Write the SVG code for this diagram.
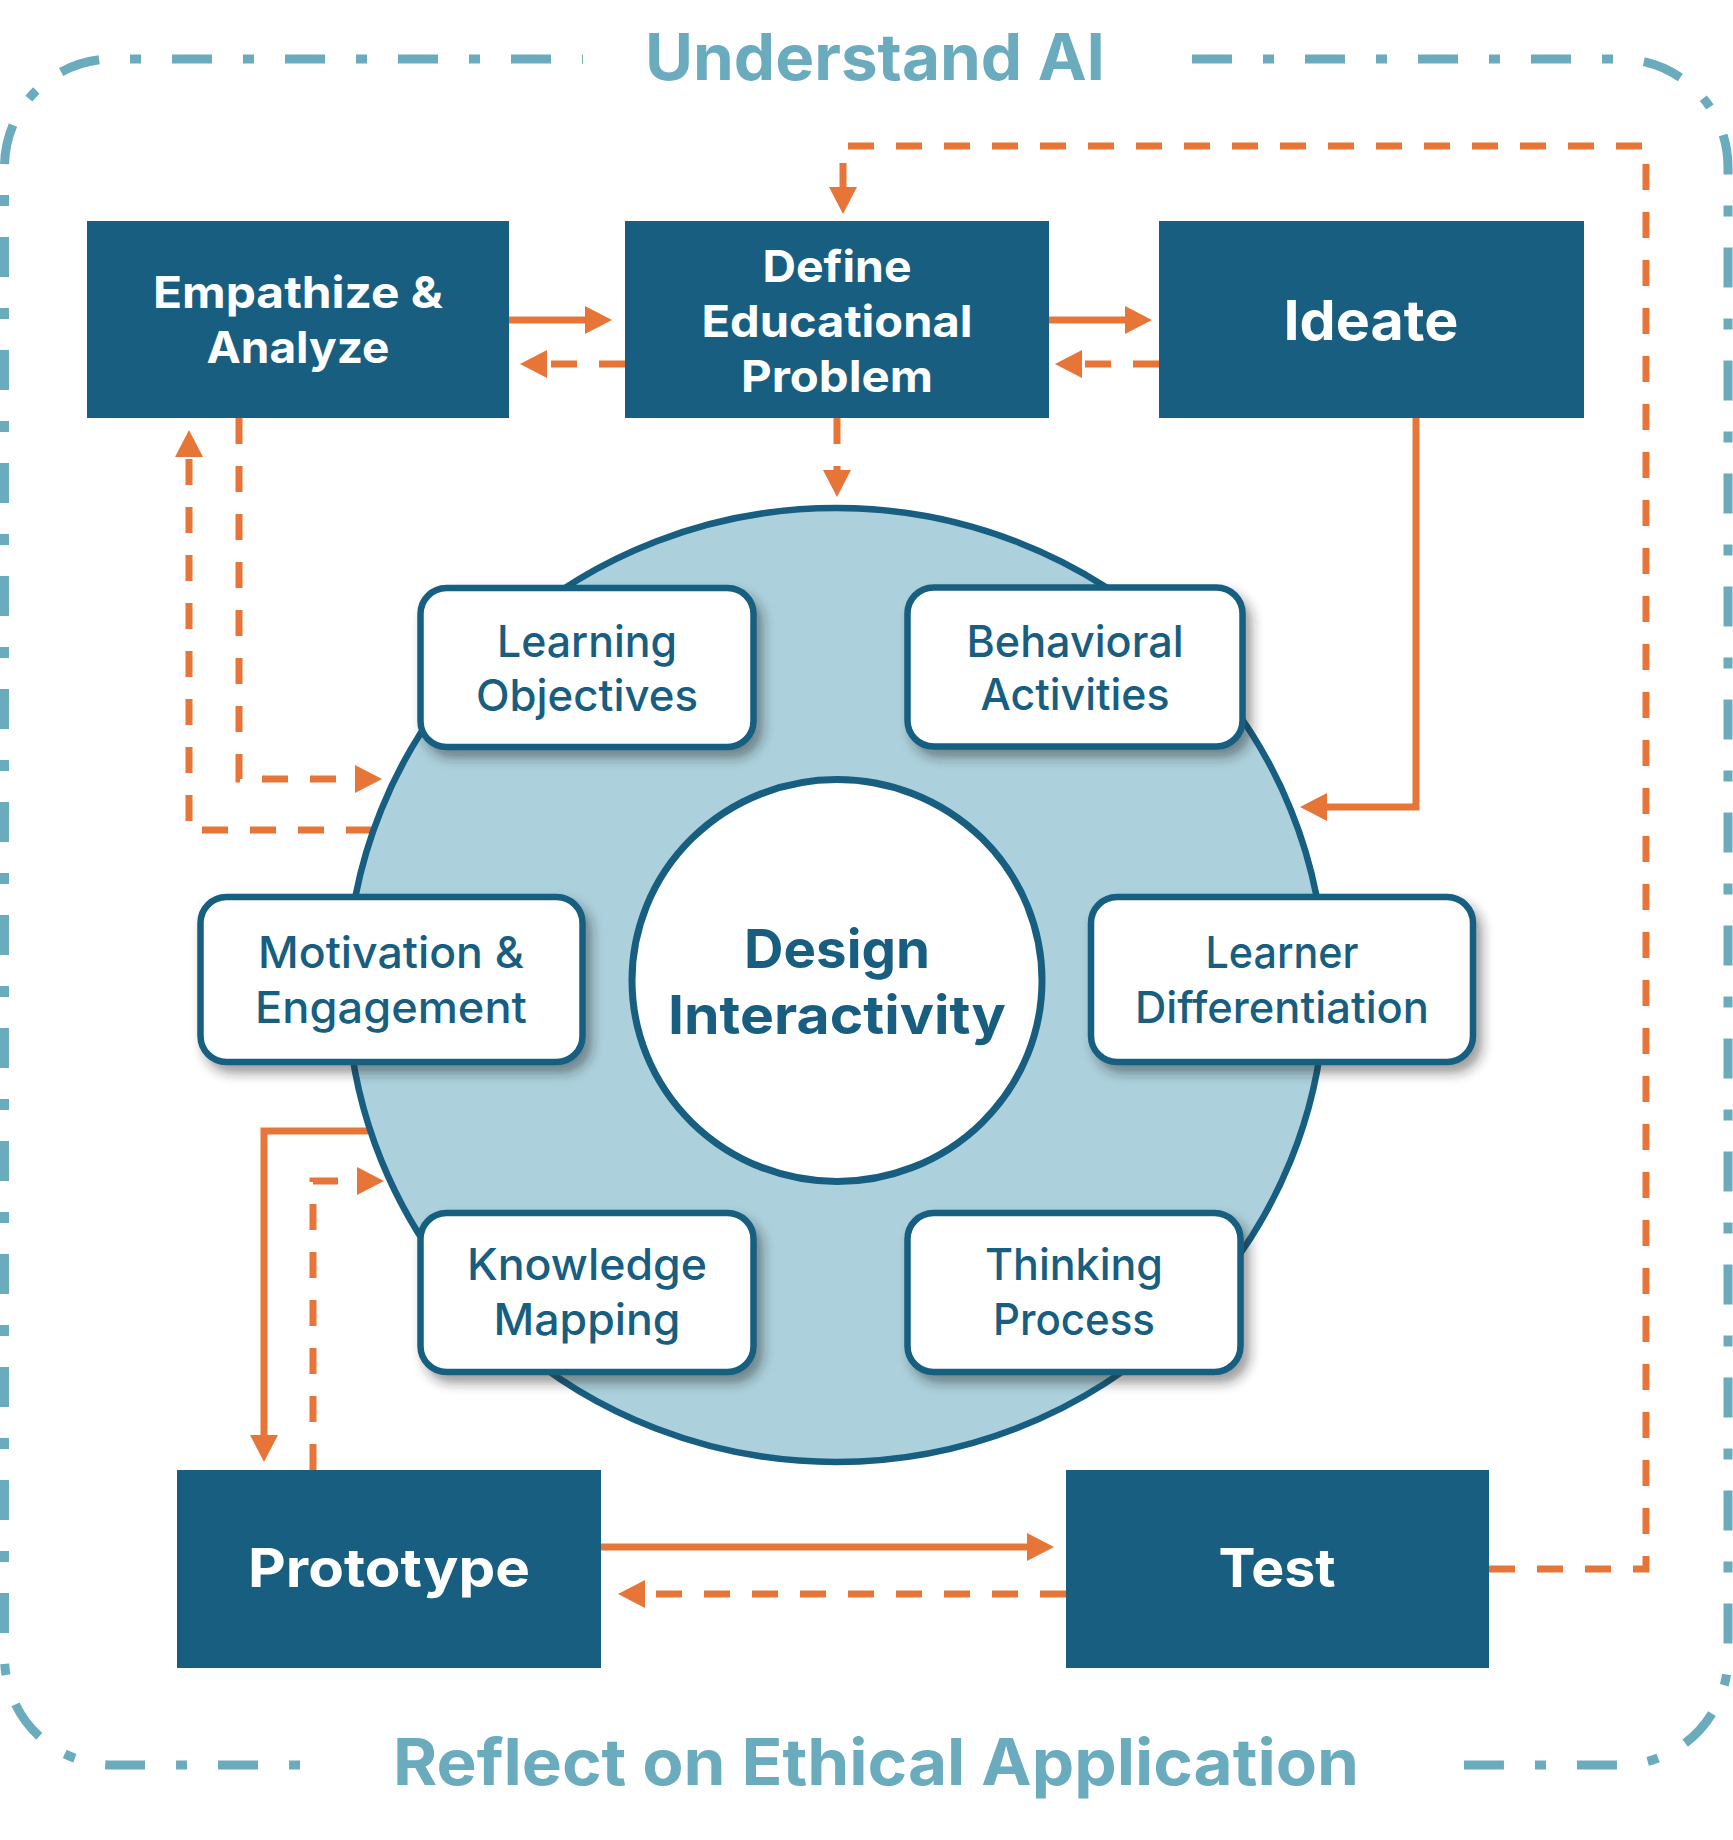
<svg xmlns="http://www.w3.org/2000/svg" width="1733" height="1840" viewBox="0 0 1733 1840">
<defs>
<style>
.title{font-family:Inter,"Open Sans","Liberation Sans",sans-serif;font-weight:700;font-size:64px;fill:#6aabbd;text-anchor:middle}
.box{fill:#175e80}
.bt{font-family:Inter,"Open Sans","Liberation Sans",sans-serif;font-weight:700;fill:#ffffff;text-anchor:middle}
.sub{fill:#ffffff;stroke:#175e80;stroke-width:6.5;filter:url(#shadow)}
.st{font-family:Inter,"Open Sans","Liberation Sans",sans-serif;font-weight:500;font-size:44px;fill:#175e80;text-anchor:middle}
.ct{font-family:Inter,"Open Sans","Liberation Sans",sans-serif;font-weight:700;font-size:54px;fill:#175e80;text-anchor:middle}
.border{fill:none;stroke:#6aabbd;stroke-width:9;stroke-dasharray:40 31 11 31}
.solid{fill:none;stroke:#e87538;stroke-width:7;marker-end:url(#arrow)}
.dash{fill:none;stroke:#e87538;stroke-width:7;stroke-dasharray:26 22;marker-end:url(#arrow)}
.dashn{fill:none;stroke:#e87538;stroke-width:7;stroke-dasharray:26 22}
</style>
<marker id="arrow" markerUnits="userSpaceOnUse" markerWidth="30" markerHeight="30" refX="0" refY="14" orient="auto" viewBox="0 0 30 30">
<path d="M0,0 L27,14 L0,28 Z" fill="#e87538"/>
</marker>
<filter id="shadow" x="-10%" y="-10%" width="125%" height="135%">
<feDropShadow dx="6" dy="8" stdDeviation="6" flood-color="#222222" flood-opacity="0.45"/>
</filter>
</defs>
<rect x="0" y="0" width="1733" height="1840" fill="#ffffff"/>

<g id="frame">
<path class="border" stroke-dashoffset="81" d="M583,59 H112.5 A108,108 0 0 0 4.5,167 V1657 A108,108 0 0 0 112.5,1765 H323"/>
<path class="border" d="M1192,59 H1620 A108,108 0 0 1 1728,167 V1657 A108,108 0 0 1 1620,1765 H1453"/>
<text class="title" x="875" y="80" textLength="460" lengthAdjust="spacingAndGlyphs">Understand AI</text>
<text class="title" x="876" y="1785" textLength="966" lengthAdjust="spacingAndGlyphs">Reflect on Ethical Application</text>
</g>

<g id="connectors">
<path class="solid" d="M509,320 H585"/>
<path class="dash" d="M625,364 H547"/>
<path class="solid" d="M1049,320 H1125"/>
<path class="dash" d="M1159,364 H1082"/>
<path class="dash" d="M1489,1569 H1646 V146 H843 V187"/>
<path class="dash" d="M837,418 V470"/>
<path class="dash" d="M239,418 V779 H355"/>
<path class="dash" d="M372,830 H189 V457"/>
<path class="solid" d="M1416,418 V807 H1327"/>
<path class="solid" d="M368,1131 H264 V1435"/>
<path class="dash" d="M313,1470 V1181 H357"/>
<path class="solid" d="M601,1547 H1027"/>
<path class="dash" d="M1066,1594 H645"/>
</g>

<g id="ring">
<ellipse cx="836" cy="985" rx="489" ry="477" fill="#acd1dc" stroke="#175e80" stroke-width="6.5"/>
</g>

<g id="design-interactivity">
<ellipse cx="837" cy="980.5" rx="205" ry="201" fill="#ffffff" stroke="#175e80" stroke-width="7"/>
<text class="ct" x="837" y="968" textLength="186" lengthAdjust="spacingAndGlyphs">Design</text>
<text class="ct" x="837" y="1034" textLength="338" lengthAdjust="spacingAndGlyphs">Interactivity</text>
</g>

<g id="empathize">
<rect class="box" x="87" y="221" width="422" height="197"/>
<text class="bt" font-size="44" x="298" y="308" textLength="290" lengthAdjust="spacingAndGlyphs">Empathize &amp;</text>
<text class="bt" font-size="44" x="298" y="363" textLength="183" lengthAdjust="spacingAndGlyphs">Analyze</text>
</g>

<g id="define">
<rect class="box" x="625" y="221" width="424" height="197"/>
<text class="bt" font-size="44" x="837" y="282" textLength="149" lengthAdjust="spacingAndGlyphs">Define</text>
<text class="bt" font-size="44" x="837" y="337" textLength="271" lengthAdjust="spacingAndGlyphs">Educational</text>
<text class="bt" font-size="44" x="837" y="392" textLength="192" lengthAdjust="spacingAndGlyphs">Problem</text>
</g>

<g id="ideate">
<rect class="box" x="1159" y="221" width="425" height="197"/>
<text class="bt" font-size="55" x="1371" y="340" textLength="175" lengthAdjust="spacingAndGlyphs">Ideate</text>
</g>

<g id="prototype">
<rect class="box" x="177" y="1470" width="424" height="198"/>
<text class="bt" font-size="54" x="389" y="1587" textLength="282" lengthAdjust="spacingAndGlyphs">Prototype</text>
</g>

<g id="test">
<rect class="box" x="1066" y="1470" width="423" height="198"/>
<text class="bt" font-size="54" x="1277" y="1587" textLength="117" lengthAdjust="spacingAndGlyphs">Test</text>
</g>

<g id="learning-objectives">
<rect class="sub" x="420.5" y="588" width="333" height="159" rx="26"/>
<text class="st" x="587" y="657" textLength="180" lengthAdjust="spacingAndGlyphs">Learning</text>
<text class="st" x="587" y="711" textLength="222" lengthAdjust="spacingAndGlyphs">Objectives</text>
</g>

<g id="behavioral-activities">
<rect class="sub" x="907.5" y="587.5" width="335" height="159" rx="26"/>
<text class="st" x="1075" y="657" textLength="217" lengthAdjust="spacingAndGlyphs">Behavioral</text>
<text class="st" x="1075" y="710" textLength="189" lengthAdjust="spacingAndGlyphs">Activities</text>
</g>

<g id="motivation-engagement">
<rect class="sub" x="200.5" y="897" width="382" height="165" rx="26"/>
<text class="st" x="391" y="968" textLength="266" lengthAdjust="spacingAndGlyphs">Motivation &amp;</text>
<text class="st" x="391" y="1023" textLength="272" lengthAdjust="spacingAndGlyphs">Engagement</text>
</g>

<g id="learner-differentiation">
<rect class="sub" x="1091" y="897" width="382" height="165" rx="26"/>
<text class="st" x="1282" y="968" textLength="153" lengthAdjust="spacingAndGlyphs">Learner</text>
<text class="st" x="1282" y="1023" textLength="294" lengthAdjust="spacingAndGlyphs">Differentiation</text>
</g>

<g id="knowledge-mapping">
<rect class="sub" x="420.5" y="1213" width="333" height="159" rx="26"/>
<text class="st" x="587" y="1280" textLength="240" lengthAdjust="spacingAndGlyphs">Knowledge</text>
<text class="st" x="587" y="1335" textLength="187" lengthAdjust="spacingAndGlyphs">Mapping</text>
</g>

<g id="thinking-process">
<rect class="sub" x="907.5" y="1213" width="333" height="159" rx="26"/>
<text class="st" x="1074" y="1280" textLength="178" lengthAdjust="spacingAndGlyphs">Thinking</text>
<text class="st" x="1074" y="1335" textLength="162" lengthAdjust="spacingAndGlyphs">Process</text>
</g>
</svg>
